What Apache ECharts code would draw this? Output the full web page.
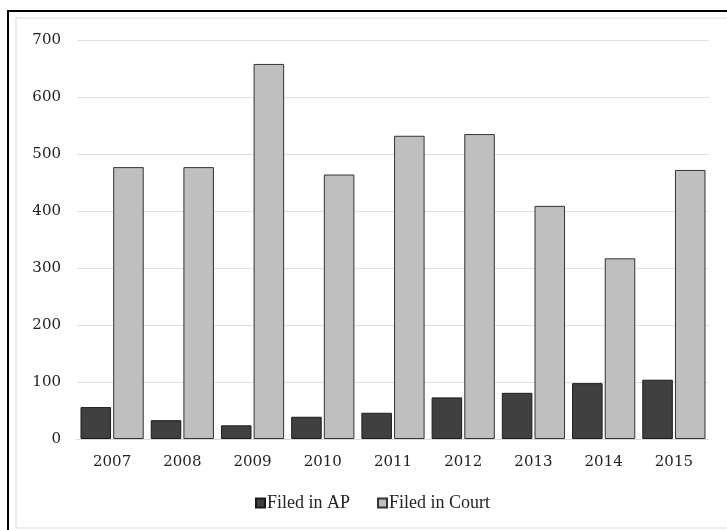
<!DOCTYPE html>
<html>
<head>
<meta charset="utf-8">
<script src="https://cdn.jsdelivr.net/npm/echarts@6/dist/echarts.min.js"></script>
<style>html,body{margin:0;padding:0;background:#fff}#c{width:727px;height:530px}</style>
</head>
<body>
<div id="c"></div>
<script>
const categories = ['2007','2008','2009','2010','2011','2012','2013','2014','2015'];
const filedInAP = [56, 33, 24, 39, 46, 73, 81, 98, 104];
const filedInCourt = [477, 477, 658, 464, 532, 535, 409, 317, 472];
const yTicks = [0, 100, 200, 300, 400, 500, 600, 700];

const chart = echarts.init(document.getElementById('c'), null, {renderer: 'canvas'});
const font = '"Liberation Serif", "DejaVu Serif", serif';
const numFont = '"DejaVu Serif", serif';
chart.setOption({
  animation: false,
  backgroundColor: '#fff',
  textStyle: {fontFamily: font},
  graphic: [
    {type: 'rect', shape: {x: 16, y: 18, width: 720, height: 510}, style: {fill: 'none', stroke: '#d9d9d9', lineWidth: 1}, silent: true},
    {type: 'polyline', shape: {points: [[8, 530], [8, 11], [727, 11]]}, style: {fill: 'none', stroke: '#000', lineWidth: 2}, silent: true}
  ],
  grid: {left: 77, right: 18, top: 40, bottom: 91},
  legend: {
    data: ['Filed in AP', 'Filed in Court'],
    top: 489,
    left: 250,
    itemWidth: 9,
    itemHeight: 9,
    itemGap: 27,
    icon: 'rect',
    textStyle: {fontFamily: font, fontSize: 18, color: '#222', padding: [0,0,0,-3]}
  },
  xAxis: {
    type: 'category',
    data: categories,
    axisTick: {show: false},
    axisLine: {lineStyle: {color: '#d9d9d9', width: 1}},
    axisLabel: {fontFamily: numFont, fontSize: 15, color: '#222', margin: 16}
  },
  yAxis: {
    type: 'value',
    min: yTicks[0],
    max: yTicks[yTicks.length - 1],
    interval: 100,
    axisLine: {show: false},
    axisTick: {show: false},
    splitLine: {lineStyle: {color: '#e0e0e0', width: 1}},
    axisLabel: {fontFamily: numFont, fontSize: 15, color: '#222', margin: 16}
  },
  series: [
    {
      name: 'Filed in AP', type: 'bar', data: filedInAP,
      barGap: '7%', barCategoryGap: '10%',
      itemStyle: {color: '#404040', borderColor: '#1a1a1a', borderWidth: 1}
    },
    {
      name: 'Filed in Court', type: 'bar', data: filedInCourt,
      itemStyle: {color: '#bfbfbf', borderColor: '#333', borderWidth: 1}
    }
  ]
});
</script>
</body>
</html>
